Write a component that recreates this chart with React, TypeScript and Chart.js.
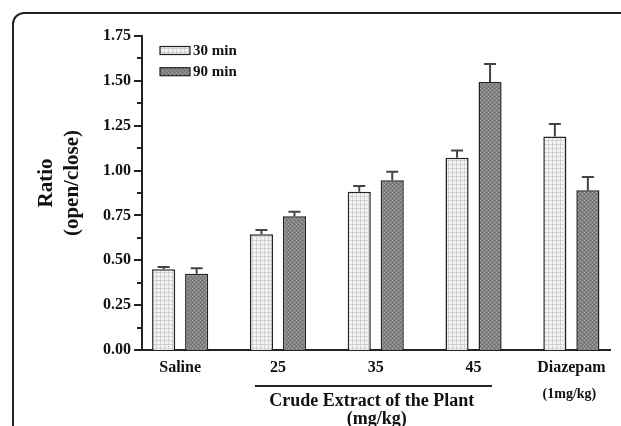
import { useEffect, useRef } from 'react';
import { Chart, registerables } from 'chart.js';
Chart.register(...registerables);

const FONT = '"Liberation Serif", "Times New Roman", serif';

const categories = ['Saline', '25', '35', '45', 'Diazepam'];
const seriesLabels = ['30 min', '90 min'];
const values30 = [0.45, 0.645, 0.882, 1.072, 1.19];
const errors30 = [0.012, 0.024, 0.032, 0.04, 0.07];
const values90 = [0.425, 0.745, 0.946, 1.494, 0.89];
const errors90 = [0.03, 0.026, 0.048, 0.1, 0.074];
const yMax = 1.75;
const yStep = 0.25;

function makePattern(kind: 'grid' | 'dots'): CanvasPattern | string {
  const c = document.createElement('canvas');
  c.width = 4;
  c.height = 4;
  const g = c.getContext('2d');
  if (!g) return kind === 'grid' ? '#eeeeee' : '#888888';
  if (kind === 'grid') {
    g.fillStyle = '#f4f4f4';
    g.fillRect(0, 0, 4, 4);
    g.fillStyle = '#d2d2d2';
    g.fillRect(0, 0, 4, 1);
    g.fillRect(0, 0, 1, 4);
  } else {
    g.fillStyle = '#828282';
    g.fillRect(0, 0, 4, 4);
    g.fillStyle = '#a6a6a6';
    g.fillRect(0, 0, 1, 1);
    g.fillRect(2, 2, 1, 1);
    g.fillStyle = '#6c6c6c';
    g.fillRect(2, 0, 1, 1);
    g.fillRect(0, 2, 1, 1);
  }
  const p = g.createPattern(c, 'repeat');
  return p || '#888888';
}

export default function App() {
  const ref = useRef<HTMLCanvasElement | null>(null);

  useEffect(() => {
    document.body.style.margin = '0';
    const canvas = ref.current;
    if (!canvas) return;
    const p30 = makePattern('grid');
    const p90 = makePattern('dots');
    const allValues = [values30, values90];
    const allErrors = [errors30, errors90];
    const fills = [p30, p90];

    const decor = {
      id: 'decor',
      beforeDraw(chart: any) {
        const ctx = chart.ctx;
        ctx.save();
        ctx.fillStyle = '#ffffff';
        ctx.fillRect(0, 0, chart.width, chart.height);
        ctx.strokeStyle = '#222222';
        ctx.lineWidth = 2;
        ctx.beginPath();
        ctx.moveTo(13, chart.height + 5);
        ctx.lineTo(13, 24);
        ctx.arcTo(13, 13, 24, 13, 11);
        ctx.lineTo(chart.width + 5, 13);
        ctx.stroke();
        ctx.restore();
      },
      afterDatasetsDraw(chart: any) {
        const ctx = chart.ctx;
        const ys = chart.scales.y;
        ctx.save();
        ctx.strokeStyle = '#444444';
        ctx.lineWidth = 2;
        allValues.forEach((vals, d) => {
          const meta = chart.getDatasetMeta(d);
          meta.data.forEach((bar: any, i: number) => {
            const top = ys.getPixelForValue(vals[i]);
            const yErr = ys.getPixelForValue(vals[i] + allErrors[d][i]);
            ctx.beginPath();
            ctx.moveTo(bar.x, top);
            ctx.lineTo(bar.x, yErr);
            ctx.moveTo(bar.x - 6, yErr);
            ctx.lineTo(bar.x + 6, yErr);
            ctx.stroke();
          });
        });
        ctx.restore();
      },
      afterDraw(chart: any) {
        const ctx = chart.ctx;
        const ys = chart.scales.y;
        const xs = chart.scales.x;
        const left = chart.chartArea.left;
        ctx.save();
        ctx.strokeStyle = '#222222';
        ctx.lineWidth = 2;
        const n = Math.round(yMax / (yStep / 2));
        for (let i = 0; i <= n; i++) {
          const y = Math.round(ys.getPixelForValue(i * yStep / 2));
          const len = i % 2 === 0 ? 8 : 5;
          ctx.beginPath();
          ctx.moveTo(left - len, y);
          ctx.lineTo(left, y);
          ctx.stroke();
        }
        ctx.fillStyle = '#111111';
        ctx.textAlign = 'center';
        ctx.textBaseline = 'middle';
        ctx.font = `bold 21px ${FONT}`;
        ctx.save();
        ctx.translate(47, 183);
        ctx.rotate(-Math.PI / 2);
        ctx.fillText('Ratio', 0, 0);
        ctx.restore();
        ctx.save();
        ctx.translate(73, 183);
        ctx.rotate(-Math.PI / 2);
        ctx.fillText('(open/close)', 0, 0);
        ctx.restore();
        ctx.beginPath();
        ctx.moveTo(xs.getPixelForValue(0.765), 386);
        ctx.lineTo(xs.getPixelForValue(3.188), 386);
        ctx.stroke();
        ctx.font = `bold 18px ${FONT}`;
        ctx.fillText('Crude Extract of the Plant', xs.getPixelForValue(1.96), 401);
        ctx.fillText('(mg/kg)', xs.getPixelForValue(2.01), 419);
        ctx.font = `bold 14px ${FONT}`;
        ctx.fillText('(1mg/kg)', xs.getPixelForValue(3.98), 394);
        ctx.textAlign = 'left';
        ctx.font = `bold 15px ${FONT}`;
        const rows = [50.5, 71.7];
        seriesLabels.forEach((lab, d) => {
          const cy = rows[d];
          ctx.fillStyle = fills[d] as any;
          ctx.fillRect(160, cy - 4, 30, 8);
          ctx.lineWidth = 1.2;
          ctx.strokeStyle = '#222222';
          ctx.strokeRect(160, cy - 4, 30, 8);
          ctx.fillStyle = '#111111';
          ctx.fillText(lab, 193, cy + 0.5);
        });
        ctx.restore();
      },
    };

    const mk = (vals: number[]) => vals.map((v, i) => ({ x: i, y: v }));

    const chart = new Chart(canvas, {
      type: 'bar',
      data: {
        datasets: [
          {
            label: seriesLabels[0],
            data: mk(values30),
            backgroundColor: p30 as any,
            borderColor: '#222222',
            borderWidth: 1.5,
            categoryPercentage: 0.675,
            barPercentage: 0.7,
          },
          {
            label: seriesLabels[1],
            data: mk(values90),
            backgroundColor: p90 as any,
            borderColor: '#222222',
            borderWidth: 1.5,
            categoryPercentage: 0.675,
            barPercentage: 0.7,
          },
        ],
      },
      options: {
        animation: false,
        responsive: false,
        layout: { padding: { top: 36, right: 11, left: 0, bottom: 0 } },
        plugins: { legend: { display: false }, tooltip: { enabled: false } },
        scales: {
          x: {
            type: 'linear',
            offset: false,
            min: -0.39,
            max: 4.395,
            grid: { display: false, offset: false },
            border: { display: true, color: '#222222', width: 2 },
            afterBuildTicks: (s: any) => {
              s.ticks = categories.map((_, i) => ({ value: i }));
            },
            afterFit: (s: any) => {
              s.height = 76;
            },
            ticks: {
              autoSkip: false,
              maxRotation: 0,
              padding: 0,
              color: '#111111',
              font: { family: FONT, size: 16, weight: 'bold' },
              callback: (v: any) => categories[v] ?? '',
            },
          },
          y: {
            min: 0,
            max: yMax,
            grid: { display: false },
            border: { display: true, color: '#222222', width: 2 },
            afterFit: (s: any) => {
              s.width = 142;
            },
            ticks: {
              stepSize: yStep,
              padding: 3,
              color: '#111111',
              font: { family: FONT, size: 16, weight: 'bold' },
              callback: (v: any) => Number(v).toFixed(2),
            },
          },
        },
      } as any,
      plugins: [decor],
    });
    return () => chart.destroy();
  }, []);

  return (
    <div style={{ width: 621, height: 426 }}>
      <canvas ref={ref} width={621} height={426} />
    </div>
  );
}
